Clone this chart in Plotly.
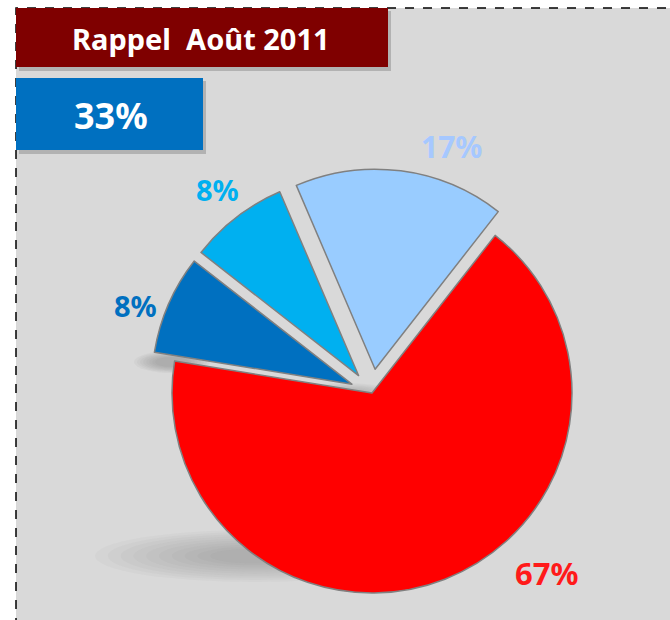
import plotly.graph_objects as go

labels = ["Rouge", "Bleu foncé", "Bleu", "Bleu clair"]
values = [67, 8, 8, 17]
colors = ["#ff0000", "#0070c0", "#00b0f0", "#99ccff"]
pulls = [0, 0.11, 0.11, 0.12]
label_colors = ["#ff1a1a", "#0070c0", "#00b0f0", "#a6c8ff"]
title_text = "Rappel  Août 2011"
badge_text = "33%"

W, H = 670, 620

def px(x):
    return x / W

def py(y):
    return 1 - y / H

fig = go.Figure()
fig.add_trace(go.Pie(
    labels=labels, values=values, sort=False, direction="clockwise",
    rotation=38, pull=pulls,
    marker=dict(colors=colors, line=dict(color="#808080", width=1.5)),
    textinfo="none", hoverinfo="label+percent", showlegend=False,
    domain=dict(x=[px(148), px(596)], y=[py(617), py(169)]),
))

shapes = []
# gray panel with dashed border
shapes.append(dict(type="rect", xref="paper", yref="paper", x0=px(16), x1=px(700), y0=py(640), y1=py(8),
                   fillcolor="#d9d9d9", line=dict(color="#000000", width=1.5, dash="dash"), layer="below"))
# soft shadows under the pie
def blur_ellipse(cx, cy, rx, ry, n=10, op=0.04):
    out = []
    for i in range(n):
        f = 1 - i * 0.08
        out.append(dict(type="circle", xref="paper", yref="paper",
                        x0=px(cx - rx * f), x1=px(cx + rx * f), y0=py(cy + ry * f), y1=py(cy - ry * f),
                        fillcolor="rgba(90,90,90,%.3f)" % op, line=dict(width=0), layer="below"))
    return out
shapes += blur_ellipse(255, 556, 160, 26)
shapes += blur_ellipse(172, 362, 38, 11, n=8, op=0.05)
shapes += blur_ellipse(345, 395, 55, 12, n=8, op=0.035)
# title boxes with shadows
shapes.append(dict(type="rect", xref="paper", yref="paper", x0=px(19), x1=px(391), y0=py(71), y1=py(11),
                   fillcolor="rgba(90,90,90,0.3)", line=dict(width=0), layer="below"))
shapes.append(dict(type="rect", xref="paper", yref="paper", x0=px(16), x1=px(388), y0=py(67), y1=py(8),
                   fillcolor="#7f0000", line=dict(width=0), layer="below"))
shapes.append(dict(type="rect", xref="paper", yref="paper", x0=px(19), x1=px(206), y0=py(154), y1=py(81),
                   fillcolor="rgba(90,90,90,0.3)", line=dict(width=0), layer="below"))
shapes.append(dict(type="rect", xref="paper", yref="paper", x0=px(16), x1=px(203), y0=py(150), y1=py(78),
                   fillcolor="#0070c0", line=dict(width=0), layer="below"))

FONT = "Noto Sans"
annotations = [
    dict(text="<b>%s</b>" % title_text, x=px(201), y=py(39), font=dict(family=FONT, size=29, color="white")),
    dict(text="<b>%s</b>" % badge_text, x=px(111), y=py(115), font=dict(family=FONT, size=36, color="white")),
]
label_pos = [(546, 573), (135, 305), (218, 190), (451, 146)]
label_sizes = [31, 29, 29, 30]
for v, c, (x, y), s in zip(values, label_colors, label_pos, label_sizes):
    annotations.append(dict(text="<b>%d%%</b>" % v, x=px(x), y=py(y),
                            font=dict(family=FONT, size=s, color=c)))
for a in annotations:
    a.update(xref="paper", yref="paper", showarrow=False, xanchor="center", yanchor="middle")

fig.update_layout(width=W, height=H, margin=dict(l=0, r=0, t=0, b=0),
                  paper_bgcolor="white", plot_bgcolor="white",
                  shapes=shapes, annotations=annotations)
fig.write_html("out.html", config={"displayModeBar": False},
               post_script="document.body.style.margin='0';")
